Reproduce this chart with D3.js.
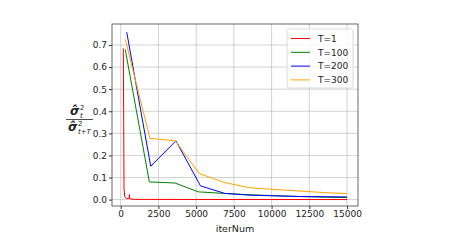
<!DOCTYPE html>
<html>
<head>
<meta charset="utf-8">
<script src="https://cdn.jsdelivr.net/npm/d3@7"></script>
<style>
body { margin: 0; background: #fff; }
text { font-family: "DejaVu Sans", sans-serif; }
</style>
</head>
<body>
<div id="chart"></div>
<script>
// data
var seriesNames = ['T=1', 'T=100', 'T=200', 'T=300'];
var seriesColors = ['red', 'green', 'blue', 'orange'];
var redIter = [175, 200, 220, 260, 320, 400, 500, 560, 580, 600, 700, 1000, 2000, 5000, 10000, 15000];
var redVal = [0.685, 0.35, 0.05, 0.015, 0.008, 0.005, 0.004, 0.006, 0.023, 0.004, 0.002, 0.001, 0.0008, 0.0005, 0.0003, 0.0002];
var greenIter = [300, 1900, 3600, 5150, 6850, 8500, 10150, 11800, 13450, 15000];
var greenVal = [0.68, 0.080, 0.075, 0.035, 0.028, 0.022, 0.018, 0.014, 0.011, 0.009];
var blueIter = [400, 1990, 3660, 5290, 6900, 8550, 10200, 11850, 13500, 15000];
var blueVal = [0.758, 0.151, 0.266, 0.062, 0.028, 0.020, 0.017, 0.014, 0.013, 0.012];
var orangeIter = [300, 1940, 3630, 5200, 6900, 8510, 10150, 11800, 13450, 15000];
var orangeVal = [0.726, 0.277, 0.266, 0.118, 0.077, 0.054, 0.046, 0.039, 0.032, 0.027];
var xTicks = [0, 2500, 5000, 7500, 10000, 12500, 15000];
var yTicks = [0.0, 0.1, 0.2, 0.3, 0.4, 0.5, 0.6, 0.7];

var width = 459, height = 240;
var pLeft = 112, pRight = 358, pTop = 24, pBottom = 206;

var svg = d3.select('#chart').append('svg')
  .attr('width', width).attr('height', height);

var x = d3.scaleLinear().domain([-576, 15725]).range([pLeft, pRight]);
var y = d3.scaleLinear().domain([-0.029, 0.795]).range([pBottom, pTop]);

// grid
svg.append('g').selectAll('line').data(xTicks).enter().append('line')
  .attr('x1', function(d) { return x(d); }).attr('x2', function(d) { return x(d); })
  .attr('y1', pTop).attr('y2', pBottom)
  .attr('stroke', '#b0b0b0').attr('stroke-width', 0.8).attr('opacity', 0.7);
svg.append('g').selectAll('line').data(yTicks).enter().append('line')
  .attr('y1', function(d) { return y(d); }).attr('y2', function(d) { return y(d); })
  .attr('x1', pLeft).attr('x2', pRight)
  .attr('stroke', '#b0b0b0').attr('stroke-width', 0.8).attr('opacity', 0.7);

// axes
var xAxis = svg.append('g').attr('transform', 'translate(0,' + pBottom + ')')
  .call(d3.axisBottom(x).tickValues(xTicks).tickSize(3).tickPadding(2).tickFormat(d3.format('d')));
var yAxis = svg.append('g').attr('transform', 'translate(' + pLeft + ',0)')
  .call(d3.axisLeft(y).tickValues(yTicks).tickSize(3).tickPadding(2).tickFormat(d3.format('.1f')));
[xAxis, yAxis].forEach(function(a) {
  a.select('.domain').remove();
  a.selectAll('line').attr('stroke', '#333');
  a.selectAll('text').attr('font-size', 9).attr('fill', '#222')
    .attr('font-family', '"DejaVu Sans", sans-serif');
});

// frame
svg.append('rect').attr('x', pLeft).attr('y', pTop)
  .attr('width', pRight - pLeft).attr('height', pBottom - pTop)
  .attr('fill', 'none').attr('stroke', '#444').attr('stroke-width', 0.8);

// lines
var series = [
  d3.zip(redIter, redVal),
  d3.zip(greenIter, greenVal),
  d3.zip(blueIter, blueVal),
  d3.zip(orangeIter, orangeVal)
];
var line = d3.line().x(function(d) { return x(d[0]); }).y(function(d) { return y(d[1]); });
svg.append('g').selectAll('path').data(series).enter().append('path')
  .attr('d', line)
  .attr('fill', 'none')
  .attr('stroke', function(d, i) { return seriesColors[i]; })
  .attr('stroke-width', 1);

// legend
var lg = svg.append('g');
lg.append('rect').attr('x', 287).attr('y', 29).attr('width', 66).attr('height', 59)
  .attr('rx', 2).attr('fill', 'white').attr('fill-opacity', 0.8)
  .attr('stroke', '#d0d0d0').attr('stroke-width', 0.8);
seriesNames.forEach(function(n, i) {
  var yy = 38.5 + i * 13.8;
  lg.append('line').attr('x1', 291).attr('x2', 310).attr('y1', yy).attr('y2', yy)
    .attr('stroke', seriesColors[i]).attr('stroke-width', 1);
  lg.append('text').attr('x', 318).attr('y', yy + 3.3).attr('font-size', 9)
    .attr('fill', '#222').text(n);
});

// x label
svg.append('text').attr('x', (pLeft + pRight) / 2).attr('y', 232)
  .attr('text-anchor', 'middle').attr('font-size', 9.5).attr('fill', '#222').text('iterNum');

// y label: fraction sigma_t^2 / sigma_{t+T}^2
var yl = svg.append('g').attr('fill', '#222');
function sigmaTerm(x0, base, sub) {
  yl.append('text').attr('x', x0).attr('y', base).attr('font-size', 12)
    .attr('font-weight', 'bold').attr('font-style', 'italic').text('σ\u0302');
  yl.append('text').attr('x', x0 + 10).attr('y', base + 2.5).attr('font-size', 7)
    .attr('font-style', 'italic').text(sub);
  yl.append('text').attr('x', x0 + 10).attr('y', base - 5).attr('font-size', 7)
    .text('2');
}
sigmaTerm(70, 115, 't');
yl.append('line').attr('x1', 66).attr('x2', 93).attr('y1', 119.5).attr('y2', 119.5)
  .attr('stroke', '#222').attr('stroke-width', 0.8);
sigmaTerm(68, 131, 't+T');
</script>
</body>
</html>
